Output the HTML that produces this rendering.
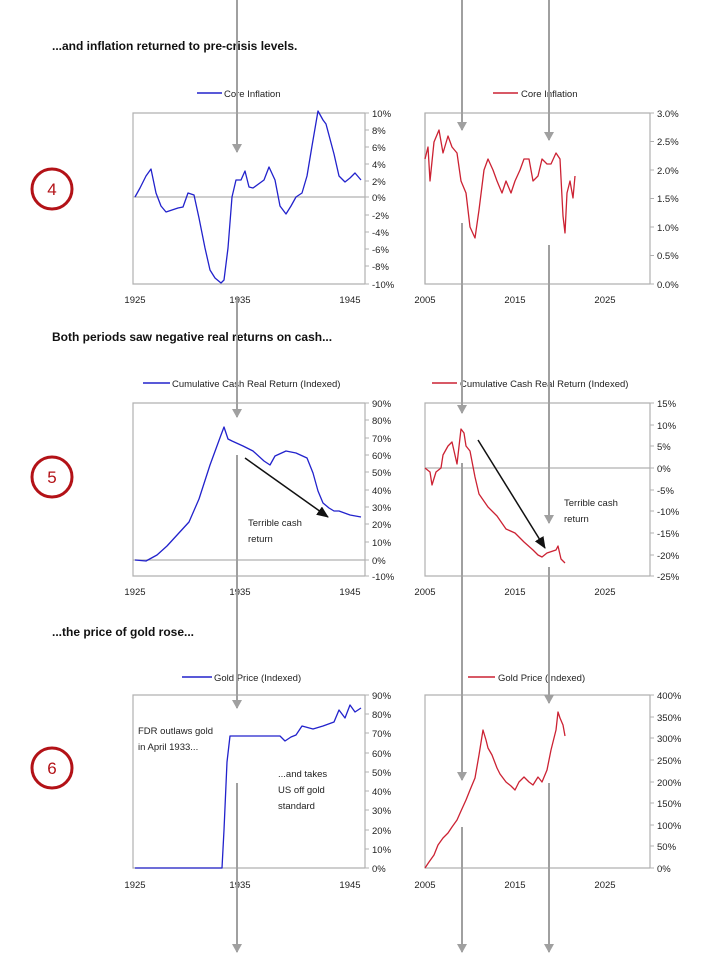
<!DOCTYPE html><html><head><meta charset="utf-8"><style>body{margin:0;background:#fff}svg{display:block;font-family:"Liberation Sans",sans-serif}</style></head><body>
<svg width="712" height="959" viewBox="0 0 712 959" xmlns="http://www.w3.org/2000/svg">
<defs><marker id="g" markerWidth="9" markerHeight="10" refX="8" refY="5" orient="auto" markerUnits="userSpaceOnUse"><path d="M0,0 L9,5 L0,10z" fill="#a0a0a0"/></marker>
<marker id="k" markerWidth="12" markerHeight="10" refX="11" refY="5" orient="auto" markerUnits="userSpaceOnUse"><path d="M0,0 L12,5 L0,10z" fill="#111"/></marker></defs>
<g font-size="12" font-weight="bold" fill="#111">
<text x="52" y="50">...and inflation returned to pre-crisis levels.</text>
<text x="52" y="341">Both periods saw negative real returns on cash...</text>
<text x="52" y="636">...the price of gold rose...</text></g>
<g fill="none" stroke="#b31217" stroke-width="3"><circle cx="52" cy="189" r="20"/><circle cx="52" cy="477" r="20"/><circle cx="52" cy="768" r="20"/></g>
<g fill="#b31217" font-size="17" text-anchor="middle"><text x="52" y="195">4</text><text x="52" y="483">5</text><text x="52" y="774">6</text></g>
<g fill="none" stroke="#b0b0b0" stroke-width="1.2">
<path d="M365,113 H133 V284 H365"/><path d="M650,113 H425 V284 H650"/>
<path d="M365,403 H133 V576 H365"/><path d="M650,403 H425 V576 H650"/>
<path d="M365,695 H133 V868 H365"/><path d="M650,695 H425 V868 H650"/>
<path d="M365,113V284M425,284V113M365,403V576M650,403V576M365,695V868M650,695V868M650,113V284"/>
<path d="M133,197H365M133,560H365M425,468H650"/>
</g>
<g stroke="#b0b0b0">
<path d="M365,113h4M365,130h4M365,147h4M365,164h4M365,181h4M365,197h4M365,215h4M365,232h4M365,249h4M365,266h4M365,284h4"/>
<path d="M650,113h4M650,141.5h4M650,170h4M650,198.5h4M650,227h4M650,255.5h4M650,284h4"/>
<path d="M365,403h4M365,420h4M365,438h4M365,455h4M365,472h4M365,490h4M365,507h4M365,524h4M365,542h4M365,560h4M365,576h4"/>
<path d="M650,403h4M650,425h4M650,446h4M650,468h4M650,490h4M650,511h4M650,533h4M650,555h4M650,576h4"/>
<path d="M365,695h4M365,714h4M365,733h4M365,753h4M365,772h4M365,791h4M365,810h4M365,830h4M365,849h4M365,868h4"/>
<path d="M650,695h4M650,717h4M650,738h4M650,760h4M650,782h4M650,803h4M650,825h4M650,846h4M650,868h4"/>
</g>
<g font-size="9.5" fill="#222">
<g text-anchor="start"><text x="372" y="117">10%</text><text x="372" y="134">8%</text><text x="372" y="151">6%</text><text x="372" y="168">4%</text><text x="372" y="185">2%</text><text x="372" y="201">0%</text><text x="372" y="219">-2%</text><text x="372" y="236">-4%</text><text x="372" y="253">-6%</text><text x="372" y="270">-8%</text><text x="372" y="288">-10%</text>
<text x="657" y="117">3.0%</text><text x="657" y="145">2.5%</text><text x="657" y="174">2.0%</text><text x="657" y="202">1.5%</text><text x="657" y="231">1.0%</text><text x="657" y="259">0.5%</text><text x="657" y="288">0.0%</text>
<text x="372" y="407">90%</text><text x="372" y="424">80%</text><text x="372" y="442">70%</text><text x="372" y="459">60%</text><text x="372" y="476">50%</text><text x="372" y="494">40%</text><text x="372" y="511">30%</text><text x="372" y="528">20%</text><text x="372" y="546">10%</text><text x="372" y="564">0%</text><text x="372" y="580">-10%</text>
<text x="657" y="407">15%</text><text x="657" y="429">10%</text><text x="657" y="450">5%</text><text x="657" y="472">0%</text><text x="657" y="494">-5%</text><text x="657" y="515">-10%</text><text x="657" y="537">-15%</text><text x="657" y="559">-20%</text><text x="657" y="580">-25%</text>
<text x="372" y="699">90%</text><text x="372" y="718">80%</text><text x="372" y="737">70%</text><text x="372" y="757">60%</text><text x="372" y="776">50%</text><text x="372" y="795">40%</text><text x="372" y="814">30%</text><text x="372" y="834">20%</text><text x="372" y="853">10%</text><text x="372" y="872">0%</text>
<text x="657" y="699">400%</text><text x="657" y="721">350%</text><text x="657" y="742">300%</text><text x="657" y="764">250%</text><text x="657" y="786">200%</text><text x="657" y="807">150%</text><text x="657" y="829">100%</text><text x="657" y="850">50%</text><text x="657" y="872">0%</text></g>
<g text-anchor="middle">
<text x="135" y="303">1925</text><text x="240" y="303">1935</text><text x="350" y="303">1945</text><text x="425" y="303">2005</text><text x="515" y="303">2015</text><text x="605" y="303">2025</text>
<text x="135" y="595">1925</text><text x="240" y="595">1935</text><text x="350" y="595">1945</text><text x="425" y="595">2005</text><text x="515" y="595">2015</text><text x="605" y="595">2025</text>
<text x="135" y="888">1925</text><text x="240" y="888">1935</text><text x="350" y="888">1945</text><text x="425" y="888">2005</text><text x="515" y="888">2015</text><text x="605" y="888">2025</text></g>
<text x="224" y="97">Core Inflation</text><text x="521" y="97">Core Inflation</text>
<text x="172" y="387">Cumulative Cash Real Return (Indexed)</text><text x="460" y="387">Cumulative Cash Real Return (Indexed)</text>
<text x="214" y="681">Gold Price (Indexed)</text><text x="498" y="681">Gold Price (Indexed)</text>
<text x="248" y="526">Terrible cash</text><text x="248" y="542">return</text>
<text x="564" y="506">Terrible cash</text><text x="564" y="522">return</text>
<text x="138" y="734">FDR outlaws gold</text><text x="138" y="750">in April 1933...</text>
<text x="278" y="777">...and takes</text><text x="278" y="793">US off gold</text><text x="278" y="809">standard</text>
</g>
<g stroke-width="1.5"><path d="M197,93H222M143,383H170M182,677H212" stroke="#2222cc"/><path d="M493,93H518M432,383H457M468,677H495" stroke="#cc2233"/></g>
<g fill="none" stroke-width="1.3" stroke-linejoin="round">
<polyline stroke="#2222cc" points="135,197 140,188 146,176 151,169 156,193 161,206 166,212 178,208 183,207 188,193 194,195 199,218 205,248 210,270 215,278 221,283 224,280 228,248 232,197 236,180 241,180 245,171 249,187 253,188 264,180 269,167 275,180 280,206 286,214 291,206 296,197 302,193 307,176 312,146 318,111 323,120 326,124 334,154 339,176 345,182 350,178 355,173 361,180"/>
<polyline stroke="#cc2233" points="425,159 428,147 430,181 434,142 439,130 443,153 448,136 452,147 457,153 461,181 466,193 470,227 475,238 479,210 484,170 488,159 493,170 497,181 502,193 506,181 511,193 515,181 520,170 524,159 529,159 533,181 538,176 542,159 547,164 551,164 556,153 560,159 563,216 565,233 567,193 570,181 573,198 575,176"/>
<polyline stroke="#2222cc" points="135,560 146,561 157,555 167,546 178,534 189,522 199,499 210,465 221,435 224,427 228,439 232,441 243,446 253,451 264,461 270,465 275,456 286,451 296,453 307,458 313,473 318,491 323,503 329,508 334,511 339,511 350,515 361,517"/>
<polyline stroke="#cc2233" points="425,468 430,472 432,485 436,472 441,468 443,455 448,446 452,442 457,464 461,429 464,433 466,446 470,451 475,477 479,494 488,507 497,516 506,529 515,533 524,542 533,550 538,555 542,557 547,553 556,550 558,546 561,559 565,563"/>
<polyline stroke="#2222cc" points="135,868 222,868 224,830 227,762 230,736 280,736 285,741 291,737 296,735 302,726 313,729 323,726 334,722 339,710 345,718 350,705 355,712 361,708"/>
<polyline stroke="#cc2233" points="425,868 429,862 434,855 438,845 443,838 448,833 452,827 457,820 461,811 466,800 470,790 475,778 479,755 483,730 486,740 488,748 492,755 497,768 500,774 506,782 511,786 515,790 519,782 524,777 529,782 533,785 538,777 542,782 547,770 551,750 556,730 558,712 560,718 563,725 565,736"/>
</g>
<g stroke="#111" stroke-width="1.5"><line x1="245" y1="458" x2="328" y2="517" marker-end="url(#k)"/><line x1="478" y1="440" x2="545" y2="548" marker-end="url(#k)"/></g>
<g stroke="#a0a0a0" stroke-width="2" marker-end="url(#g)">
<line x1="237" y1="0" x2="237" y2="152"/><line x1="237" y1="297" x2="237" y2="417"/><line x1="237" y1="455" x2="237" y2="708"/><line x1="237" y1="783" x2="237" y2="952"/>
<line x1="462" y1="0" x2="462" y2="130"/><line x1="462" y1="223" x2="462" y2="413"/><line x1="462" y1="463" x2="462" y2="780"/><line x1="462" y1="827" x2="462" y2="952"/>
<line x1="549" y1="0" x2="549" y2="140"/><line x1="549" y1="245" x2="549" y2="523"/><line x1="549" y1="567" x2="549" y2="703"/><line x1="549" y1="783" x2="549" y2="952"/>
</g>
</svg></body></html>
